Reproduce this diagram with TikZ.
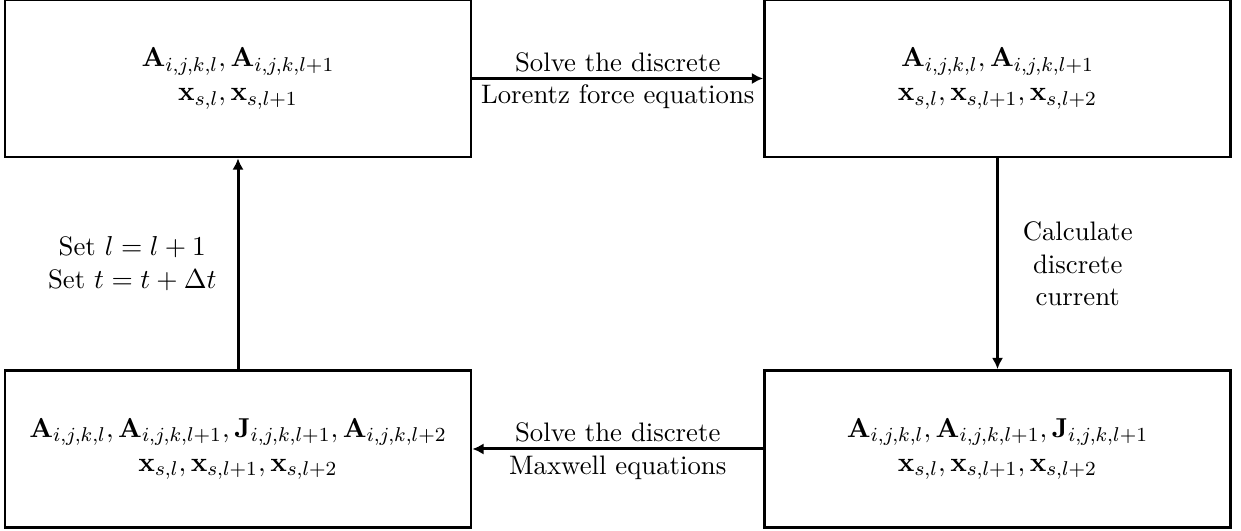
\documentclass[tikz,border=0pt]{standalone}
\usetikzlibrary{arrows.meta}
\begin{document}
\begin{tikzpicture}[x=0.4pt,y=-0.4pt,
  every node/.style={font=\fontsize{10.7pt}{13pt}\selectfont},
  box/.style={draw,line width=1.1pt,minimum width=466*0.4pt,minimum height=157*0.4pt,align=center,inner sep=0pt,font=\fontsize{11.1pt}{13.5pt}\selectfont},
  flow/.style={line width=1.2pt,-{Latex[length=4.5pt,width=4.5pt]}},
  lbl/.style={align=center,inner sep=2pt}]
\useasboundingbox (0,0) rectangle (1241,531);
\node[box] (tl) at (238,78.5) {$\mathbf{A}_{i,j,k,l},\mathbf{A}_{i,j,k,l+1}$\\$\mathbf{x}_{s,l},\mathbf{x}_{s,l+1}$};
\node[box] (tr) at (997.5,78.5) {$\mathbf{A}_{i,j,k,l},\mathbf{A}_{i,j,k,l+1}$\\$\mathbf{x}_{s,l},\mathbf{x}_{s,l+1},\mathbf{x}_{s,l+2}$};
\node[box] (br) at (997.5,449) {$\mathbf{A}_{i,j,k,l},\mathbf{A}_{i,j,k,l+1},\mathbf{J}_{i,j,k,l+1}$\\$\mathbf{x}_{s,l},\mathbf{x}_{s,l+1},\mathbf{x}_{s,l+2}$};
\node[box] (bl) at (238,449) {$\mathbf{A}_{i,j,k,l},\mathbf{A}_{i,j,k,l+1},\mathbf{J}_{i,j,k,l+1},\mathbf{A}_{i,j,k,l+2}$\\$\mathbf{x}_{s,l},\mathbf{x}_{s,l+1},\mathbf{x}_{s,l+2}$};
\draw[flow] (tl) -- node[lbl,above] {Solve the discrete} node[lbl,below] {Lorentz force equations} (tr);
\draw[flow] (tr) -- node[lbl,right,xshift=7.5pt] {Calculate\\discrete\\current} (br);
\draw[flow] (br) -- node[lbl,above] {Solve the discrete} node[lbl,below] {Maxwell equations} (bl);
\draw[flow] (bl) -- node[lbl,left,xshift=-6pt] {Set $l=l+1$\\Set $t=t+\Delta t$} (tl);
\end{tikzpicture}
\end{document}
